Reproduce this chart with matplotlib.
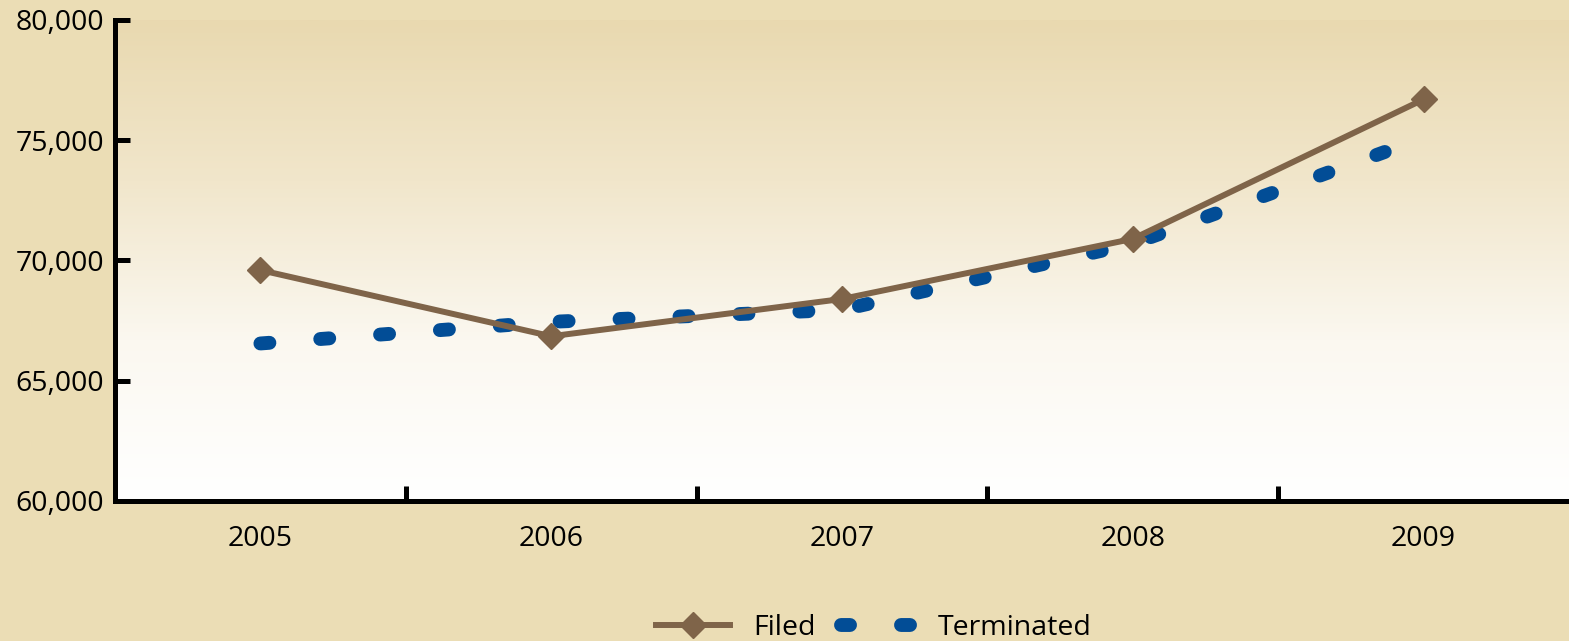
import numpy as np
import matplotlib.pyplot as plt
from matplotlib.colors import LinearSegmentedColormap
from matplotlib.ticker import FuncFormatter, FixedLocator

# values
years = ["2005", "2006", "2007", "2008", "2009"]
filed = [69600, 66850, 68400, 70900, 76700]
terminated = [66550, 67450, 67950, 70700, 75100]

plt.rcParams['font.family'] = ['Open Sans', 'DejaVu Sans']

bg = "#ebddb5"
fig = plt.figure(figsize=(15.69, 6.41), dpi=100, facecolor=bg)
ax = fig.add_axes([115 / 1569, 140 / 641, 1454 / 1569, 481 / 641])
ax.set_xlim(-0.5, 4.5)
ax.set_ylim(60000, 80000)

# background gradient: tan at top, white at the bottom
grad_cmap = LinearSegmentedColormap.from_list("bg", ["#ffffff", "#fbf8f0", "#f1e6cb", "#e9d9b0"])
grad = np.linspace(0, 1, 256).reshape(-1, 1)
ax.imshow(grad, cmap=grad_cmap, aspect="auto", origin="lower",
          extent=[-0.5, 4.5, 60000, 80000], zorder=0)

x = np.arange(len(years))
ax.plot(x, filed, color="#7f6449", lw=4.3, marker="D", markersize=13.5,
        label="Filed", zorder=3)
ax.plot(x, terminated, color="#024d96", lw=10, linestyle=(0, (0.65, 3.67)),
        dash_capstyle="round", label="Terminated", zorder=2)

for side in ["top", "right"]:
    ax.spines[side].set_visible(False)
for side in ["left", "bottom"]:
    ax.spines[side].set_linewidth(3.6)
    ax.spines[side].set_zorder(5)

ax.set_yticks(range(60000, 80001, 5000))
ax.yaxis.set_major_formatter(FuncFormatter(lambda v, p: f"{int(v):,}"))
ax.tick_params(axis="y", direction="in", length=11, width=3.6, labelsize=20.5, pad=8)

ax.xaxis.set_major_locator(FixedLocator([0.5, 1.5, 2.5, 3.5]))
ax.xaxis.set_minor_locator(FixedLocator(x))
ax.set_xticklabels([], minor=False)
ax.set_xticklabels(years, minor=True)
ax.tick_params(axis="x", which="major", direction="in", length=11, width=3.6)
ax.tick_params(axis="x", which="minor", length=0, labelsize=20.5, pad=17)

fig.legend(loc="center", bbox_to_anchor=(874 / 1569, 1 - 628 / 641), ncol=2,
           frameon=False, fontsize=20.5, handlelength=2.6, handletextpad=0.8,
           columnspacing=0.9)

fig.savefig("out.png", dpi=100, facecolor=bg)
